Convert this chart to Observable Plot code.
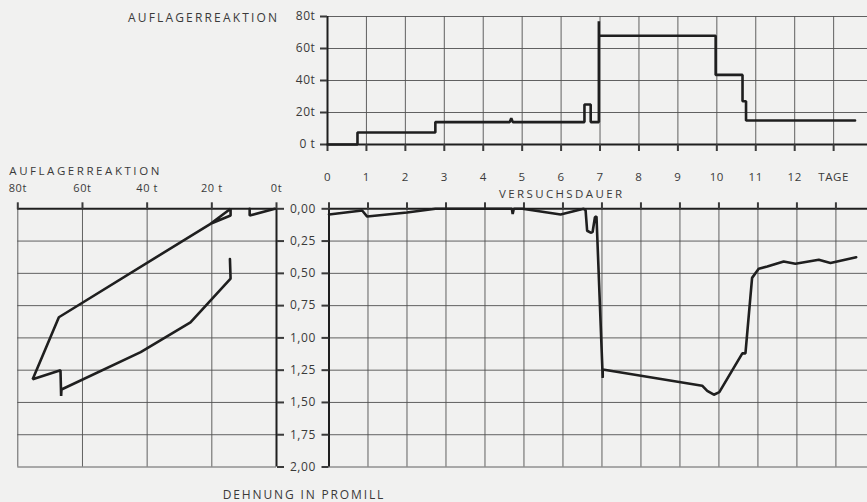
<!DOCTYPE html>
<html>
<head>
<meta charset="utf-8">
<script src="https://cdn.jsdelivr.net/npm/d3@7"></script>
<script src="https://cdn.jsdelivr.net/npm/@observablehq/plot@0.6"></script>
<style>
  html, body { margin: 0; padding: 0; background: #f1f1f0; }
  #chart { position: relative; width: 867px; height: 502px; background: #f1f1f0; overflow: hidden; }
  #chart svg { position: absolute; }
</style>
</head>
<body>
<div id="chart"></div>
<script>
// ---------- data ----------
// top: support reaction (t) vs test duration (days)
const topDays     = [0, 0.77, 0.77, 2.77, 2.77, 4.68, 4.72, 4.76, 6.60, 6.60, 6.76, 6.76, 6.97, 6.97, 6.97, 9.97, 9.97, 10.66, 10.66, 10.75, 10.75, 13.55];
const topReaction = [0, 0,    7.5,  7.5,  14,   14,   16.5, 14,   14,   25,   25,   14,   14,   77,   68,   68,   43.5, 43.5,  27,    27,    15,    15];

// bottom right: strain (per mille) vs test duration (days)
const strainDays   = [0,     0.85,  0.98, 2.0,   2.73, 4.69, 4.71, 4.74, 4.96, 5.94,  6.53, 6.58, 6.62, 6.71,  6.76, 6.82,  6.86, 7.02, 7.02,  9.57, 9.70, 9.87, 10.01, 10.60, 10.68, 10.85, 11.02, 11.24, 11.66, 11.96, 12.56, 12.86, 13.52];
const strainValues = [0.044, 0.013, 0.06, 0.029, 0.0,  0.0,  0.04, 0.0,  0.0,  0.044, 0.0,  0.01, 0.17, 0.185, 0.18, 0.065, 0.06, 1.31, 1.245, 1.37, 1.41, 1.44, 1.42,  1.12,  1.12,  0.535, 0.465, 0.447, 0.408, 0.426, 0.395, 0.42,  0.375];

// bottom left: strain (per mille) vs support reaction (t)
const loopReaction = [14.4, 14.2, 26.6, 42.0, 66.5, 66.6, 66.8, 75.4, 67.3, 20.4,  14.2, 14.2,  20.4];
const loopStrain   = [0.39, 0.54, 0.88, 1.11, 1.40, 1.45, 1.25, 1.32, 0.84, 0.116, 0.0,  0.052, 0.116];
const hookReaction = [0.5, 8.3,   8.3];
const hookStrain   = [0.0, 0.052, 0.0];

// ticks and labels
const dayTicks = d3.range(0, 14);
const dayLabels = ["0","1","2","3","4","5","6","7","8","9","10","11","12","TAGE"];
const reactionTicks = [0, 20, 40, 60, 80];
const topReactionLabels = ["0 t", "20t", "40t", "60t", "80t"];
const leftReactionLabels = ["0t", "20 t", "40 t", "60t", "80t"];
const strainTicks = [0, 0.25, 0.5, 0.75, 1.0, 1.25, 1.5, 1.75, 2.0];
const strainFmt = d => d.toFixed(2).replace(".", ",");

const topSeries = topDays.map((d, i) => ({day: d, value: topReaction[i]}));
const strainSeries = strainDays.map((d, i) => ({day: d, value: strainValues[i]}));
const loopSeries = loopReaction.map((r, i) => ({r, s: loopStrain[i]}));
const hookSeries = hookReaction.map((r, i) => ({r, s: hookStrain[i]}));

// ---------- style ----------
const INK = "#1f1f1f", GRID = "#505050", TXT = "#3a3a3a";
const FONT = "'Open Sans', 'DejaVu Sans', sans-serif";
const baseStyle = {background: "transparent", fontFamily: FONT, fontSize: "12px", color: TXT, overflow: "visible", letterSpacing: "0.6px"};
const gridOpt = {stroke: GRID, strokeOpacity: 1, strokeWidth: 0.9};
const axisLine = {stroke: INK, strokeWidth: 2};
const lineOpt = {stroke: INK, strokeWidth: 2.6, strokeLinejoin: "miter"};

const chart = document.getElementById("chart");
function place(svg, left, top) {
  svg.style.left = left + "px";
  svg.style.top = top + "px";
  chart.appendChild(svg);
}

// ---------- top: reaction vs time ----------
const topPlot = Plot.plot({
  width: 867, height: 200,
  marginLeft: 327, marginRight: 0, marginTop: 16, marginBottom: 56,
  style: baseStyle,
  x: {domain: [0, 13.87]},
  y: {domain: [0, 80]},
  marks: [
    Plot.gridX(dayTicks, gridOpt),
    Plot.gridY([20, 40, 60, 80], gridOpt),
    Plot.ruleY([0], axisLine),
    Plot.ruleX([0], axisLine),
    Plot.axisX({ticks: dayTicks, tickFormat: d => dayLabels[dayTicks.indexOf(d)], tickSize: 7, tickPadding: 21, fontSize: 11.5, strokeWidth: 2, label: null}),
    Plot.axisY({ticks: reactionTicks, tickFormat: d => topReactionLabels[reactionTicks.indexOf(d)], tickSize: 7, tickPadding: 5, strokeWidth: 2, label: null}),
    Plot.line(topSeries, {x: "day", y: "value", ...lineOpt})
  ]
});
place(topPlot, 0, 0);

// ---------- bottom left: strain vs reaction ----------
const leftPlot = Plot.plot({
  width: 300, height: 320,
  marginLeft: 17.3, marginRight: 24, marginTop: 48.3, marginBottom: 13.5,
  style: baseStyle,
  x: {domain: [0, 80], reverse: true},
  y: {domain: [0, 2], reverse: true},
  marks: [
    Plot.gridX([20, 40, 60, 80], gridOpt),
    Plot.gridY(strainTicks.slice(1), gridOpt),
    Plot.ruleY([0], axisLine),
    Plot.ruleX([0], axisLine),
    Plot.axisX({anchor: "top", ticks: reactionTicks, tickFormat: d => leftReactionLabels[reactionTicks.indexOf(d)], tickSize: 7, tickPadding: 10, fontSize: 11, strokeWidth: 2, label: null}),
    Plot.axisY({anchor: "right", ticks: strainTicks, tickFormat: () => "", tickSize: 7, strokeWidth: 2, label: null}),
    Plot.line(hookSeries, {x: "r", y: "s", ...lineOpt}),
    Plot.line(loopSeries, {x: "r", y: "s", ...lineOpt})
  ]
});
place(leftPlot, 0, 160);

// ---------- bottom right: strain vs time ----------
const rightPlot = Plot.plot({
  width: 867, height: 290,
  marginLeft: 328.5, marginRight: 0, marginTop: 18.3, marginBottom: 13.5,
  style: baseStyle,
  x: {domain: [0, 13.81]},
  y: {domain: [0, 2], reverse: true},
  marks: [
    Plot.gridX(dayTicks, gridOpt),
    Plot.gridY(strainTicks.slice(1), gridOpt),
    Plot.ruleY([0], axisLine),
    Plot.ruleX([0], axisLine),
    Plot.axisX({anchor: "top", ticks: dayTicks, tickFormat: () => "", tickSize: 7, strokeWidth: 2, label: null}),
    Plot.axisY({ticks: strainTicks, tickFormat: strainFmt, tickSize: 7, tickPadding: 6, strokeWidth: 2, label: null}),
    Plot.line(strainSeries, {x: "day", y: "value", ...lineOpt})
  ]
});
place(rightPlot, 0, 190);

// ---------- titles ----------
const overlay = d3.create("svg")
  .attr("width", 867).attr("height", 502)
  .style("left", "0px").style("top", "0px")
  .style("pointer-events", "none")
  .style("overflow", "visible");
const titles = [
  {text: "AUFLAGERREAKTION", x: 128, y: 21.7, len: 149, size: 12},
  {text: "AUFLAGERREAKTION", x: 9.3, y: 175, len: 150, size: 11.5},
  {text: "VERSUCHSDAUER", x: 499, y: 198, len: 123, size: 11.5},
  {text: "DEHNUNG IN PROMILL", x: 222.7, y: 499.3, len: 160.6, size: 12}
];
overlay.selectAll("text").data(titles).join("text")
  .attr("x", d => d.x).attr("y", d => d.y)
  .attr("textLength", d => d.len).attr("lengthAdjust", "spacing")
  .attr("font-family", FONT).attr("font-size", d => d.size).attr("fill", TXT)
  .text(d => d.text);
chart.appendChild(overlay.node());
</script>
</body>
</html>
